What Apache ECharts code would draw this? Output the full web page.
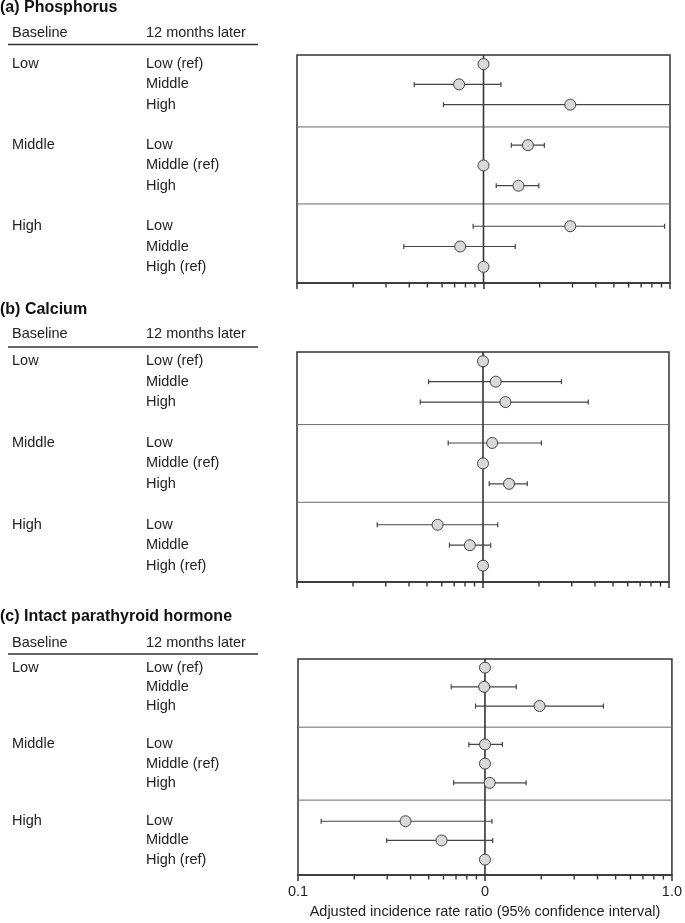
<!DOCTYPE html>
<html>
<head>
<meta charset="utf-8">
<script src="https://cdn.jsdelivr.net/npm/echarts@6/dist/echarts.min.js"></script>
<style>
html, body { margin: 0; padding: 0; background: #fff; }
#main { width: 685px; height: 923px; }
</style>
</head>
<body>
<div id="main"></div>
<script>
// ---- data ----
var baselineLevels = ['Low', 'Middle', 'High'];
var laterLabels = ['Low (ref)', 'Middle', 'High', 'Low', 'Middle (ref)', 'High', 'Low', 'Middle', 'High (ref)'];
var rowY = [0, 1, 2, 4, 5, 6, 8, 9, 10];
var groupLines = [3.1, 6.9];

// phosphorus
var phosEst = [1, 0.74, 2.92, 1.73, 1, 1.54, 2.92, 0.75, 1];
var phosLow = [null, 0.425, 0.61, 1.41, null, 1.17, 0.88, 0.374, null];
var phosHigh = [null, 1.24, 11, 2.12, null, 1.98, 9.35, 1.48, null];

// calcium
var caEst = [1, 1.17, 1.32, 1.12, 1, 1.38, 0.57, 0.85, 1];
var caLow = [null, 0.51, 0.46, 0.65, null, 1.08, 0.27, 0.66, null];
var caHigh = [null, 2.64, 3.68, 2.06, null, 1.73, 1.20, 1.10, null];

// intact PTH
var pthEst = [1, 0.99, 1.96, 1.0, 1, 1.06, 0.376, 0.586, 1];
var pthLow = [null, 0.66, 0.89, 0.82, null, 0.68, 0.133, 0.298, null];
var pthHigh = [null, 1.47, 4.30, 1.24, null, 1.66, 1.09, 1.10, null];

var minorTicks = [0.2, 0.3, 0.4, 0.5, 0.6, 0.7, 0.8, 0.9, 2, 3, 4, 5, 6, 7, 8, 9];
var tickText = { '0.1': '0.1', '1': '0', '10': '1.0' };

var XMIN = 0.1, XMAX = 10, YMIN = -0.45, YMAX = 10.8;
var FONT = '"Liberation Sans", Arial, sans-serif';
var INK = '#222';

var panels = [
    { title: '(a) Phosphorus', titleY: 8, headY: 33, lineY: 44.5,
      grid: { left: 297, top: 55, width: 373, height: 228 },
      est: phosEst, lo: phosLow, hi: phosHigh },
    { title: '(b) Calcium', titleY: 310, headY: 334, lineY: 347,
      grid: { left: 297, top: 352, width: 372, height: 230 },
      est: caEst, lo: caLow, hi: caHigh },
    { title: '(c) Intact parathyroid hormone', titleY: 617, headY: 643, lineY: 654,
      grid: { left: 298, top: 659, width: 374, height: 216 },
      est: pthEst, lo: pthLow, hi: pthHigh }
];

var dom = document.getElementById('main');
var myChart = echarts.init(dom);

var grids = [], xAxes = [], yAxes = [], series = [], graphics = [];

panels.forEach(function (p, k) {
    grids.push({
        left: p.grid.left, top: p.grid.top, width: p.grid.width, height: p.grid.height,
        show: true, borderColor: '#333', borderWidth: 1.5, backgroundColor: 'transparent'
    });
    var last = k === panels.length - 1;
    xAxes.push({
        type: 'log', logBase: 10, min: XMIN, max: XMAX, interval: 1, gridIndex: k,
        axisLine: { show: true, onZero: false, lineStyle: { color: '#333', width: 1.5 } },
        axisTick: { show: true, length: 6, lineStyle: { color: '#333', width: 1.5 } },
        splitLine: { show: false },
        axisLabel: {
            show: last, color: INK, fontSize: 14.5, fontFamily: FONT, margin: 9,
            formatter: function (v) { return tickText[String(+v.toPrecision(3))] || ''; }
        },
        name: last ? 'Adjusted incidence rate ratio (95% confidence interval)' : '',
        nameLocation: 'middle', nameGap: 29,
        nameTextStyle: { color: INK, fontSize: 14.5, fontFamily: FONT }
    });
    yAxes.push({
        type: 'value', min: YMIN, max: YMAX, inverse: true, gridIndex: k, show: false
    });

    // minor ticks
    series.push({
        type: 'custom', xAxisIndex: k, yAxisIndex: k, silent: true,
        data: minorTicks.map(function (v) { return [v, YMAX]; }),
        renderItem: function (params, api) {
            var pt = api.coord([api.value(0), api.value(1)]);
            return { type: 'line', shape: { x1: pt[0], y1: pt[1], x2: pt[0], y2: pt[1] + 4.5 },
                     style: { stroke: '#333', lineWidth: 1.4 } };
        }
    });

    // group separators
    series.push({
        type: 'custom', xAxisIndex: k, yAxisIndex: k, silent: true,
        data: groupLines.map(function (y) { return [y]; }),
        renderItem: function (params, api) {
            var a = api.coord([XMIN, api.value(0)]);
            var b = api.coord([XMAX, api.value(0)]);
            return { type: 'line', shape: { x1: a[0], y1: a[1], x2: b[0], y2: b[1] },
                     style: { stroke: '#6a6a6a', lineWidth: 1 } };
        }
    });

    // reference line at 1
    series.push({
        type: 'custom', xAxisIndex: k, yAxisIndex: k, silent: true,
        data: [[1]],
        renderItem: function (params, api) {
            var a = api.coord([api.value(0), YMIN]);
            var b = api.coord([api.value(0), YMAX]);
            return { type: 'line', shape: { x1: a[0], y1: a[1], x2: b[0], y2: b[1] },
                     style: { stroke: '#333', lineWidth: 1.6 } };
        }
    });

    // confidence intervals
    var ciData = [];
    for (var i = 0; i < rowY.length; i++) {
        if (p.lo[i] != null) ciData.push([p.lo[i], p.hi[i], rowY[i]]);
    }
    series.push({
        type: 'custom', xAxisIndex: k, yAxisIndex: k, silent: true,
        encode: { x: [0, 1], y: 2 },
        data: ciData,
        renderItem: function (params, api) {
            var lo = api.value(0), hi = api.value(1), y = api.value(2);
            var a = api.coord([lo, y]);
            var b = api.coord([Math.min(hi, XMAX), y]);
            var st = { stroke: '#444', lineWidth: 1.2 };
            var kids = [
                { type: 'line', shape: { x1: a[0], y1: a[1], x2: b[0], y2: b[1] }, style: st },
                { type: 'line', shape: { x1: a[0], y1: a[1] - 2.5, x2: a[0], y2: a[1] + 2.5 }, style: st }
            ];
            if (hi <= XMAX) {
                kids.push({ type: 'line', shape: { x1: b[0], y1: b[1] - 2.5, x2: b[0], y2: b[1] + 2.5 }, style: st });
            }
            return { type: 'group', children: kids };
        }
    });

    // point estimates
    series.push({
        type: 'scatter', xAxisIndex: k, yAxisIndex: k, silent: true, z: 5,
        symbol: 'circle', symbolSize: 11,
        itemStyle: { color: '#d9d9d9', borderColor: '#444', borderWidth: 1, opacity: 1 },
        data: p.est.map(function (v, i) { return [v, rowY[i]]; })
    });

    // row labels
    series.push({
        type: 'custom', xAxisIndex: k, yAxisIndex: k, silent: true, clip: false,
        data: rowY.map(function (y, i) { return [1, y, i]; }),
        renderItem: function (params, api) {
            var i = api.value(2);
            var yy = api.coord([1, api.value(1)])[1];
            var font = '14.5px ' + FONT;
            var kids = [
                { type: 'text', style: { text: laterLabels[i], x: 146, y: yy, fill: INK, font: font,
                                         align: 'left', verticalAlign: 'middle' } }
            ];
            if (i % 3 === 0) {
                kids.push({ type: 'text', style: { text: baselineLevels[i / 3], x: 12, y: yy, fill: INK, font: font,
                                                   align: 'left', verticalAlign: 'middle' } });
            }
            return { type: 'group', children: kids };
        }
    });

    // panel headings
    graphics.push({
        type: 'text', left: 0, top: p.titleY - 8,
        style: { text: p.title, fill: '#111', font: 'bold 16px ' + FONT }
    });
    graphics.push({
        type: 'text', left: 12, top: p.headY - 8,
        style: { text: 'Baseline', fill: INK, font: '14.5px ' + FONT }
    });
    graphics.push({
        type: 'text', left: 146, top: p.headY - 8,
        style: { text: '12 months later', fill: INK, font: '14.5px ' + FONT }
    });
    graphics.push({
        type: 'line', shape: { x1: 8, y1: p.lineY, x2: 258, y2: p.lineY },
        style: { stroke: '#333', lineWidth: 1.5 }
    });
});

var option = {
    backgroundColor: '#fff',
    animation: false,
    textStyle: { fontFamily: FONT },
    grid: grids,
    xAxis: xAxes,
    yAxis: yAxes,
    series: series,
    graphic: graphics
};

myChart.setOption(option);
</script>
</body>
</html>
